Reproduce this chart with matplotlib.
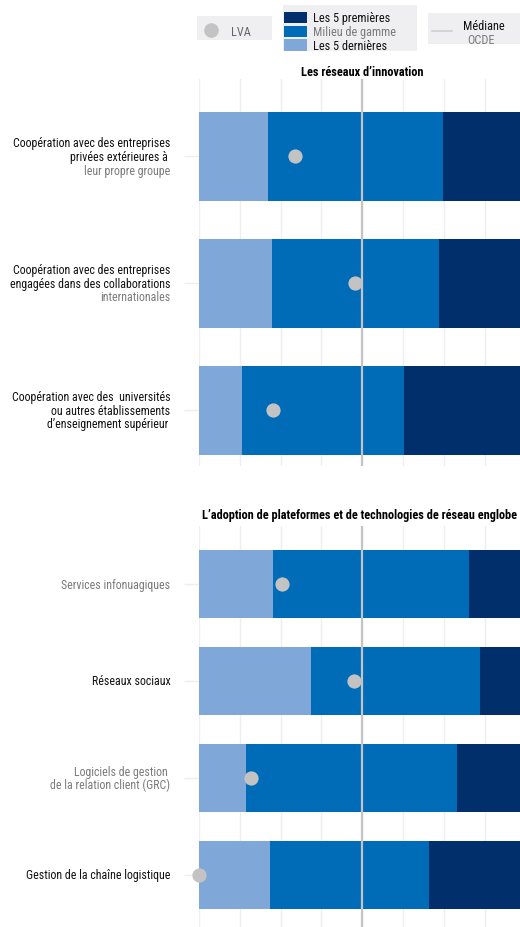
import matplotlib.pyplot as plt
from matplotlib import font_manager
from matplotlib.patches import Rectangle
from matplotlib.lines import Line2D

W, H = 520, 928

# pick a narrow face close to the original Arial Narrow
_installed = {f.name for f in font_manager.fontManager.ttflist}
_narrow = [n for n in ["Liberation Sans Narrow", "Arial Narrow", "Roboto Condensed",
                       "Archivo Narrow", "PT Sans Narrow", "Fira Sans Condensed"]
           if n in _installed]
FONT = _narrow[0] if _narrow else "Liberation Sans"
k = 1.0 if _narrow else 0.84
FS = 8.6 * k        # row labels
FS_LEG = 8.8 * k    # legend and section titles
plt.rcParams['font.family'] = [FONT, 'DejaVu Sans']

# --- data (x in grid units, OECD median = 4) ---
innov_title = "Les réseaux d’innovation"
innov_labels = [
    ["Coopération avec des entreprises", "privées extérieures à ", "leur propre groupe"],
    ["Coopération avec des entreprises", "engagées dans des collaborations", "internationales"],
    ["Coopération avec des  universités", "ou autres établissements", "d’enseignement supérieur "],
]
innov_gray = [[False, False, True], [False, False, True], [False, False, False]]
innov_low = [1.69, 1.79, 1.05]
innov_mid = [5.98, 5.88, 5.02]
innov_lva = [2.35, 3.82, 1.81]

tech_title = "L’adoption de plateformes et de technologies de réseau englobe"
tech_labels = [
    ["Services infonuagiques"],
    ["Réseaux sociaux"],
    ["Logiciels de gestion ", "de la relation client (GRC)"],
    ["Gestion de la chaîne logistique"],
]
tech_gray = [[True], [False], [True, True], [False]]
tech_low = [1.81, 2.75, 1.15, 1.74]
tech_mid = [6.62, 6.89, 6.32, 5.64]
tech_lva = [2.03, 3.80, 1.27, 0.0]

median = 4
x_end = 8

C_DARK = "#002F6C"
C_MID = "#006BB6"
C_LIGHT = "#7FA8D9"
C_DOT = "#C3C3C3"
C_GRAY_TXT = "#7A7A7A"
C_BOX = "#EFEFF2"


def fx(px):
    return px / W


def fy(py):
    return 1 - py / H


def draw_panel(ax, labels, gray, low, mid, lva, ylim):
    ys = list(range(len(low)))
    ax.barh(ys, low, height=0.70, color=C_LIGHT, zorder=2)
    ax.barh(ys, [m - l for m, l in zip(mid, low)], left=low, height=0.70, color=C_MID, zorder=2)
    ax.barh(ys, [x_end - m for m in mid], left=mid, height=0.70, color=C_DARK, zorder=2)
    ax.axvline(median, color="#C4C4C4", lw=1.6, zorder=3)
    ax.scatter(lva, ys, s=105, color=C_DOT, zorder=4, clip_on=False, linewidths=0)

    ax.set_xlim(0, 7.87)
    ax.set_ylim(*ylim)
    ax.set_xticks(range(0, 8))
    ax.grid(axis="x", color="#EEEEEE", lw=1, zorder=0)
    ax.set_yticks(ys)
    ax.set_yticklabels([])
    ax.tick_params(axis="y", length=11, color="#EEEEEE", width=1)
    ax.tick_params(axis="x", length=0, labelbottom=False)
    for s in ax.spines.values():
        s.set_visible(False)

    for y, lines, g in zip(ys, labels, gray):
        n = len(lines)
        for i, (line, is_gray) in enumerate(zip(lines, g)):
            off = (i - (n - 1) / 2) * 9.8
            ax.annotate(line, xy=(0, y), xycoords=("axes fraction", "data"),
                        xytext=(-20.5, -off), textcoords="offset points",
                        ha="right", va="center", fontsize=FS,
                        color=C_GRAY_TXT if is_gray else "#111111")


fig = plt.figure(figsize=(W / 100, H / 100), dpi=100)

ax1 = fig.add_axes([fx(199), fy(467), (520 - 199) / W, (467 - 80) / H])
draw_panel(ax1, innov_labels, innov_gray, innov_low, innov_mid, innov_lva, (2.44, -0.61))

ax2 = fig.add_axes([fx(199), fy(928), (520 - 199) / W, (928 - 527) / H])
draw_panel(ax2, tech_labels, tech_gray, tech_low, tech_mid, tech_lva, (3.54, -0.60))

fig.text(fx(362), fy(72), innov_title, ha="center", va="center", fontsize=FS_LEG, fontweight="bold")
fig.text(fx(202), fy(516), tech_title, ha="left", va="center", fontsize=FS_LEG, fontweight="bold")

# --- legend ---
for x0, y0, x1, y1 in [(197, 17, 272, 41), (283, 6, 417, 52), (428, 14, 520, 45)]:
    fig.add_artist(Rectangle((fx(x0), fy(y1)), (x1 - x0) / W, (y1 - y0) / H,
                             transform=fig.transFigure, color=C_BOX, lw=0))

fig.add_artist(Line2D([fx(211)], [fy(31)], marker="o", markersize=10.5, color=C_DOT,
                      markeredgewidth=0, transform=fig.transFigure))
fig.text(fx(231), fy(32), "LVA", ha="left", va="center", fontsize=FS_LEG, color="#666666")

legend_rows = [("Les 5 premières", C_DARK, "#111111", 13, 24),
               ("Milieu de gamme", C_MID, C_GRAY_TXT, 27, 38),
               ("Les 5 dernières", C_LIGHT, "#111111", 40, 52)]
for txt, col, tcol, y0, y1 in legend_rows:
    fig.add_artist(Rectangle((fx(284), fy(y1)), 23 / W, (y1 - y0) / H,
                             transform=fig.transFigure, color=col, lw=0))
    fig.text(fx(313), fy((y0 + y1) / 2), txt, ha="left", va="center", fontsize=FS_LEG, color=tcol)

fig.add_artist(Line2D([fx(432), fx(452)], [fy(32), fy(32)], color="#CFCFCF", lw=1.2,
                      transform=fig.transFigure))
fig.text(fx(484), fy(26), "Médiane", ha="center", va="center", fontsize=FS_LEG, color="#111111")
fig.text(fx(481), fy(40), "OCDE", ha="center", va="center", fontsize=FS_LEG, color=C_GRAY_TXT)

fig.savefig("out.png", dpi=100)
